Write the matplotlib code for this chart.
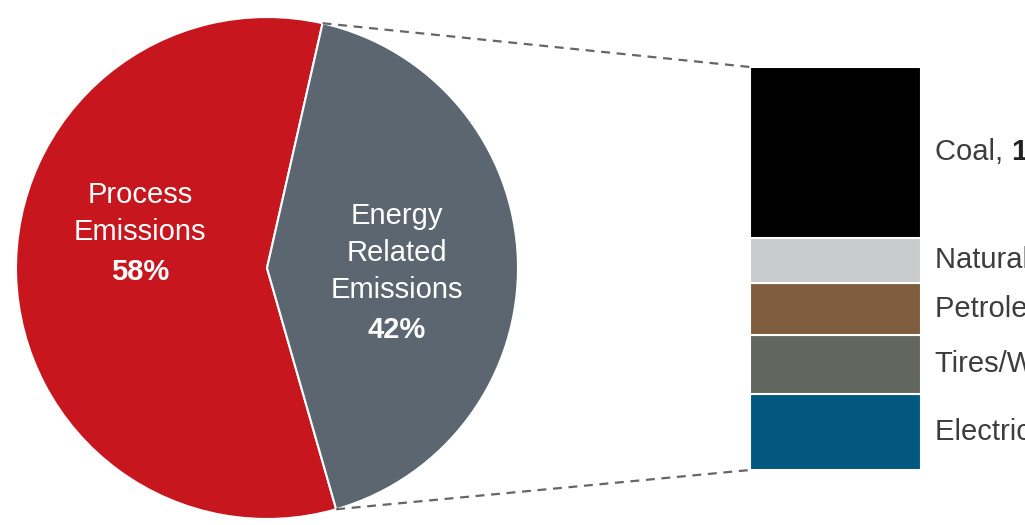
import numpy as np
import matplotlib.pyplot as plt
from matplotlib.transforms import blended_transform_factory

plt.rcParams['font.family'] = ['Liberation Sans', 'DejaVu Sans']

# pie: share of total emissions
pie_labels = [['Process', 'Emissions'], ['Energy', 'Related', 'Emissions']]
pie_values = [58, 42]
pie_colors = ['#c8161e', '#5b6670']

# breakdown of energy related emissions (% of total), top to bottom
src_names = ['Coal', 'Natural Gas', 'Petroleum Coke', 'Tires/Waste', 'Electricity']
src_values = [17.8, 4.7, 5.4, 6.2, 7.9]
src_colors = ['#000000', '#c9cbcc', '#7f5d3e', '#63665f', '#02587f']

W, H = 1025, 525
fig = plt.figure(figsize=(W / 100, H / 100), dpi=100)

# main axes in pixel units (y up)
ax = fig.add_axes([0, 0, 1, 1])
cx, cy, r = 267, 257, 251
wedges, _ = ax.pie(pie_values, colors=pie_colors, startangle=77.2,
                   center=(cx, cy), radius=r,
                   wedgeprops=dict(edgecolor='white', linewidth=1.5))
ax.set_xlim(0, W)
ax.set_ylim(0, H)
ax.set_aspect('auto')
ax.axis('off')

# wedge labels, one line at a time
for lines, val, x, ytop in zip(pie_labels, pie_values, [140, 397], [330, 309]):
    for i, line in enumerate(lines + [f'{val}%']):
        bold = i == len(lines)
        y = ytop - 37 * i - (3 if bold else 0)
        ax.text(x, y, line, color='white', fontsize=21, ha='center',
                va='center', fontweight='bold' if bold else 'normal')

# stacked bar
bx0, by0, bw, bh = 750, 55, 171, 403
ax2 = fig.add_axes([bx0 / W, by0 / H, bw / W, bh / H])
bottom = 0
stack = list(zip(src_names, src_values, src_colors))[::-1]
mids = {}
for name, val, col in stack:
    ax2.bar(0, val, bottom=bottom, width=1, color=col, edgecolor='white',
            linewidth=1.5)
    mids[name] = bottom + val / 2
    bottom += val
ax2.set_xlim(-0.5, 0.5)
ax2.set_ylim(0, bottom)
ax2.axis('off')

tr = blended_transform_factory(ax2.transAxes, ax2.transData)
for name, val in zip(src_names, src_values):
    t = ax2.text(1.08, mids[name], f'{name}, ', transform=tr, fontsize=21,
                 color='#3d3d3d', va='center', ha='left', clip_on=False)
    ax2.annotate(f'{round(val)}%', xy=(1, 0), xycoords=t, va='bottom',
                 ha='left', fontsize=21, fontweight='bold', color='#222222',
                 annotation_clip=False)

# dashed connectors from the energy wedge to the bar
en = wedges[1]
for ang, yb in [(en.theta2, by0 + bh), (en.theta1, by0)]:
    px = cx + r * np.cos(np.radians(ang))
    py = cy + r * np.sin(np.radians(ang))
    ax.plot([px, bx0], [py, yb], ls=(0, (4, 3)), color='#666666', lw=1.6)

fig.savefig('out.png', dpi=100)
